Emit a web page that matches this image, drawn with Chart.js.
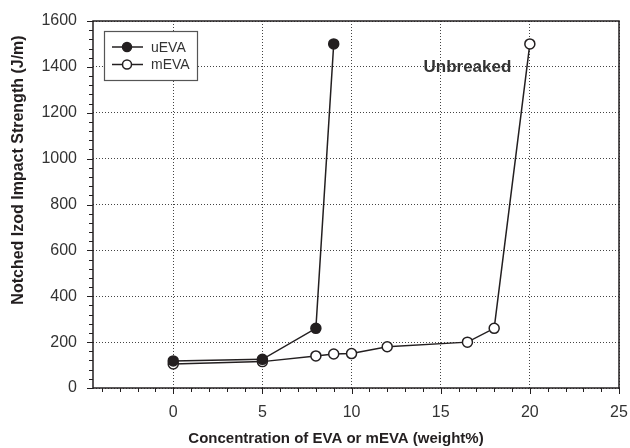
<!DOCTYPE html>
<html>
<head>
<meta charset="utf-8">
<script src="https://cdn.jsdelivr.net/npm/chart.js@4"></script>
<style>
  html, body { margin: 0; padding: 0; background: #fff; }
  #wrap { width: 630px; height: 448px; }
</style>
</head>
<body>
<div id="wrap"><canvas id="impact-chart" width="630" height="448"></canvas></div>
<script>
// EVA content (weight%) and notched Izod impact strength (J/m)
var uevaX = [0, 5, 8, 9];
var uevaY = [118, 125, 260, 1500];
var mevaX = [0, 5, 8, 9, 10, 12, 16.5, 18, 20];
var mevaY = [105, 115, 140, 148, 150, 180, 200, 260, 1500];

var xTicks = [0, 5, 10, 15, 20, 25];
var yTicks = [0, 200, 400, 600, 800, 1000, 1200, 1400, 1600];
var seriesNames = ["uEVA", "mEVA"];
var xTitle = "Concentration of EVA or mEVA (weight%)";
var yTitle = "Notched Izod Impact Strength (J/m)";
var noteText = "Unbreaked";
var notePos = [16.5, 1400];

var ink = "#231f20";
var font = "'Liberation Sans', Arial, sans-serif";

function toPoints(xs, ys) {
    return xs.map(function(x, i) { return { x: x, y: ys[i] }; });
}

// frame, minor/major tick marks, axis titles, legend box and the note
var decorations = {
    id: "decorations",
    afterDraw: function(chart) {
        var c = chart.ctx, a = chart.chartArea;
        var sx = chart.scales.x, sy = chart.scales.y;
        c.save();
        c.strokeStyle = ink;
        c.lineWidth = 1.5;
        c.strokeRect(a.left, a.top, a.right - a.left, a.bottom - a.top);

        c.lineWidth = 1;
        c.beginPath();
        for (var v = -4; v <= 25; v++) {
            var px = Math.round(sx.getPixelForValue(v)) + 0.5;
            var len = (v % 5 === 0) ? 6 : 4;
            c.moveTo(px, a.bottom);
            c.lineTo(px, a.bottom + len);
        }
        for (var w = 0; w <= 1600; w += 40) {
            var py = Math.round(sy.getPixelForValue(w)) + 0.5;
            var l2 = (w % 200 === 0) ? 6 : 4;
            c.moveTo(a.left, py);
            c.lineTo(a.left - l2, py);
        }
        c.stroke();

        // axis titles
        c.fillStyle = ink;
        c.textAlign = "center";
        c.textBaseline = "middle";
        c.font = "bold 15px " + font;
        c.fillText(xTitle, 336, 439);
        c.save();
        c.translate(19, 170);
        c.rotate(-Math.PI / 2);
        c.font = "bold 16px " + font;
        c.fillText(yTitle, 0, 0);
        c.restore();

        // legend
        var lx = 104, ly = 31, lw = 93, lh = 49;
        c.fillStyle = "#fff";
        c.fillRect(lx, ly, lw, lh);
        c.strokeStyle = "#555";
        c.lineWidth = 1.2;
        c.strokeRect(lx + 0.5, ly + 0.5, lw, lh);
        chart.data.datasets.forEach(function(ds, i) {
            var yy = ly + 16 + i * 17.5;
            c.strokeStyle = ink;
            c.lineWidth = 1.5;
            c.beginPath();
            c.moveTo(lx + 8, yy);
            c.lineTo(lx + 39, yy);
            c.stroke();
            c.beginPath();
            c.arc(lx + 23, yy, 4.5, 0, Math.PI * 2);
            c.fillStyle = ds.pointBackgroundColor;
            c.fill();
            c.stroke();
            c.fillStyle = "#333";
            c.font = "14px " + font;
            c.textBaseline = "middle";
            c.textAlign = "left";
            c.fillText(ds.label, lx + 47, yy + 1);
        });

        // note near the broken-off points
        c.fillStyle = "#333";
        c.font = "bold 17px " + font;
        c.textAlign = "center";
        c.textBaseline = "middle";
        c.fillText(noteText, sx.getPixelForValue(notePos[0]), sy.getPixelForValue(notePos[1]));
        c.restore();
    }
};

function plainLabel(v) { return String(v); }

var ctx = document.getElementById("impact-chart").getContext("2d");
var impactChart = new Chart(ctx, {
    type: "scatter",
    data: {
        datasets: [
            {
                label: seriesNames[0],
                data: toPoints(uevaX, uevaY),
                showLine: true,
                borderColor: ink,
                borderWidth: 1.5,
                pointRadius: 5,
                pointBorderWidth: 1.5,
                pointBackgroundColor: ink,
                pointBorderColor: ink
            },
            {
                label: seriesNames[1],
                data: toPoints(mevaX, mevaY),
                showLine: true,
                borderColor: ink,
                borderWidth: 1.5,
                pointRadius: 5,
                pointBorderWidth: 1.5,
                pointBackgroundColor: "#fff",
                pointBorderColor: ink
            }
        ]
    },
    options: {
        responsive: false,
        animation: false,
        layout: { padding: { top: 21, right: 11, left: 0, bottom: 0 } },
        plugins: {
            legend: { display: false },
            tooltip: { enabled: false }
        },
        scales: {
            x: {
                type: "linear",
                min: -4.5,
                max: 25,
                afterBuildTicks: function(scale) {
                    scale.ticks = xTicks.map(function(v) { return { value: v }; });
                },
                afterFit: function(scale) {
                    scale.height = 60;
                    scale.paddingLeft = 0;
                    scale.paddingRight = 0;
                },
                grid: { color: "#444", lineWidth: 1, drawTicks: false },
                border: { display: false, dash: [1, 2] },
                ticks: { padding: 15, color: "#333", font: { family: font, size: 16 }, callback: plainLabel }
            },
            y: {
                min: 0,
                max: 1600,
                afterBuildTicks: function(scale) {
                    scale.ticks = yTicks.map(function(v) { return { value: v }; });
                },
                afterFit: function(scale) {
                    scale.width = 93;
                    scale.paddingTop = 0;
                    scale.paddingBottom = 0;
                },
                grid: { color: "#444", lineWidth: 1, drawTicks: false },
                border: { display: false, dash: [1, 2] },
                ticks: { padding: 16, color: "#333", font: { family: font, size: 16 }, callback: plainLabel }
            }
        }
    },
    plugins: [decorations]
});
</script>
</body>
</html>
